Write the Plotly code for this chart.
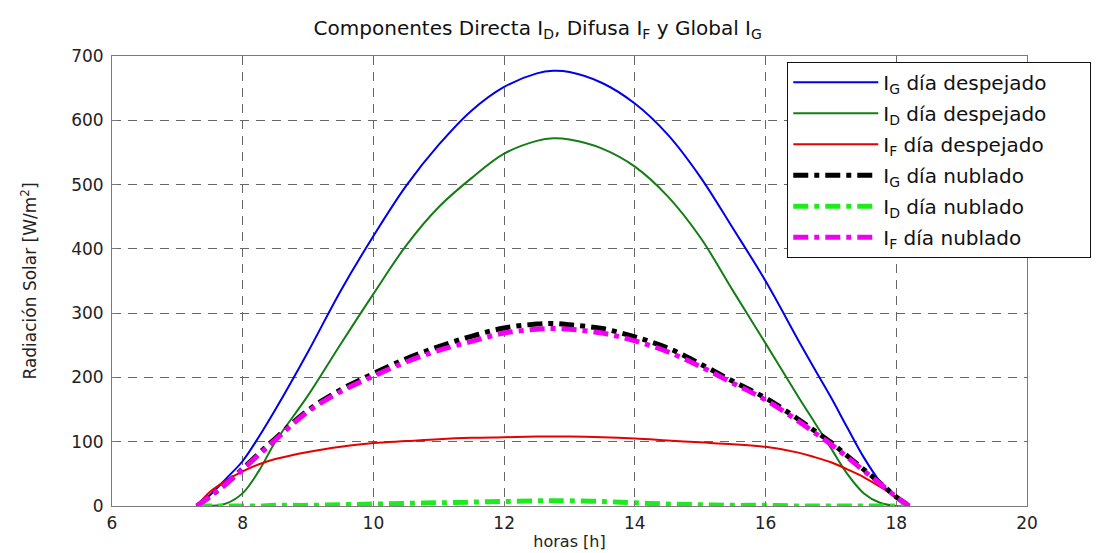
import plotly.graph_objects as go

# Hours of the day
horas = [7.3, 7.5, 7.75, 8, 8.25, 8.5, 9, 9.5, 10, 10.5, 11, 11.5, 12, 12.5, 12.75,
         13, 13.5, 14, 14.5, 15, 15.5, 16, 16.5, 16.75, 17, 17.25, 17.5, 17.75, 18, 18.2]

# Clear day (día despejado)
ig_despejado = [0, 17, 43, 70, 108, 150, 240, 335, 420, 498, 562, 615, 652, 673, 677,
                675, 658, 626, 578, 512, 432, 350, 258, 213, 169, 122, 76, 38, 12, 0]
id_despejado = [0, 0, 4, 20, 55, 100, 172, 252, 330, 405, 465, 510, 548, 568, 572,
                570, 556, 528, 482, 418, 335, 253, 170, 130, 90, 50, 20, 5, 0, 0]
if_despejado = [0, 22, 40, 54, 65, 73, 84, 92, 98, 101, 104, 106, 107, 108, 108,
                108, 107, 105, 102, 99, 96, 92, 83, 76, 68, 57, 45, 30, 14, 0]

# Cloudy day (día nublado)
ig_nublado = [0, 15, 35, 58, 82, 105, 149, 181, 206, 229, 248, 264, 277, 283, 284,
              282, 276, 263, 246, 221, 194, 168, 135, 117, 99, 78, 57, 36, 14, 0]
id_nublado = [0, 0, 0, 0, 0, 1, 1, 2, 3, 4, 5, 6, 7, 8, 8,
              8, 7, 5, 3, 2, 1, 1, 0, 0, 0, 0, 0, 0, 0, 0]
if_nublado = [0, 15, 35, 57, 80, 103, 147, 178, 202, 224, 242, 256, 269, 275, 276,
              275, 269, 257, 240, 217, 191, 165, 132, 114, 96, 76, 55, 35, 14, 0]

series = [
    ("I<sub>G</sub> día despejado", ig_despejado, "rgb(0,0,235)", 2, "solid"),
    ("I<sub>D</sub> día despejado", id_despejado, "rgb(20,125,20)", 2, "solid"),
    ("I<sub>F</sub> día despejado", if_despejado, "rgb(230,0,0)", 2, "solid"),
    ("I<sub>G</sub> día nublado", ig_nublado, "rgb(0,0,0)", 5, "15px,6px,5px,6px"),
    ("I<sub>D</sub> día nublado", id_nublado, "rgb(30,235,30)", 5, "15px,6px,5px,6px"),
    ("I<sub>F</sub> día nublado", if_nublado, "rgb(240,0,240)", 5, "15px,6px,5px,6px"),
]

fig = go.Figure()
for i, (name, vals, color, width, dash) in enumerate(series):
    fig.add_trace(go.Scatter(
        x=horas, y=vals, mode="lines", name=name + "&nbsp;" * 6, legendgroup="g%d" % i,
        line=dict(color=color, width=width, dash=dash, shape="spline", smoothing=1.0),
    ))

FONT = "DejaVu Sans, Liberation Sans, Arial, sans-serif"
axis_common = dict(
    showline=True, linecolor="#7a7a7a", linewidth=1, mirror=True,
    ticks="inside", ticklen=5, tickcolor="#7a7a7a",
    showgrid=True, gridcolor="#666666", gridwidth=1, griddash="9px,7px",
    zeroline=False, tickfont=dict(family=FONT, size=17, color="#222222"),
)

fig.update_layout(
    width=1099, height=553,
    margin=dict(l=104, r=80, t=48, b=55, autoexpand=False),
    paper_bgcolor="white", plot_bgcolor="white",
    title=dict(
        text="Componentes Directa I<sub>D</sub>, Difusa I<sub>F</sub> y Global I<sub>G</sub>",
        x=0.482, xanchor="center", y=0.964, yanchor="middle",
        font=dict(family=FONT, size=20, color="#111111"),
    ),
    xaxis=dict(range=[6, 20], dtick=2, tick0=6, ticklabelstandoff=2,
               title=dict(text="horas [h]", standoff=3,
                          font=dict(family=FONT, size=16, color="#222222")),
               **axis_common),
    yaxis=dict(range=[0, 700], dtick=100, tick0=0, ticklabelstandoff=4,
               title=dict(text="Radiación Solar [W/m<sup>2</sup>]", standoff=30,
                          font=dict(family=FONT, size=17, color="#222222")),
               **axis_common),
    legend=dict(
        x=0.738, xanchor="left", y=0.987, yanchor="top",
        bgcolor="white", bordercolor="#111111", borderwidth=1,
        font=dict(family=FONT, size=20, color="#111111"),
        itemwidth=85, tracegroupgap=2,
    ),
    showlegend=True,
)

fig.write_html("out.html")
